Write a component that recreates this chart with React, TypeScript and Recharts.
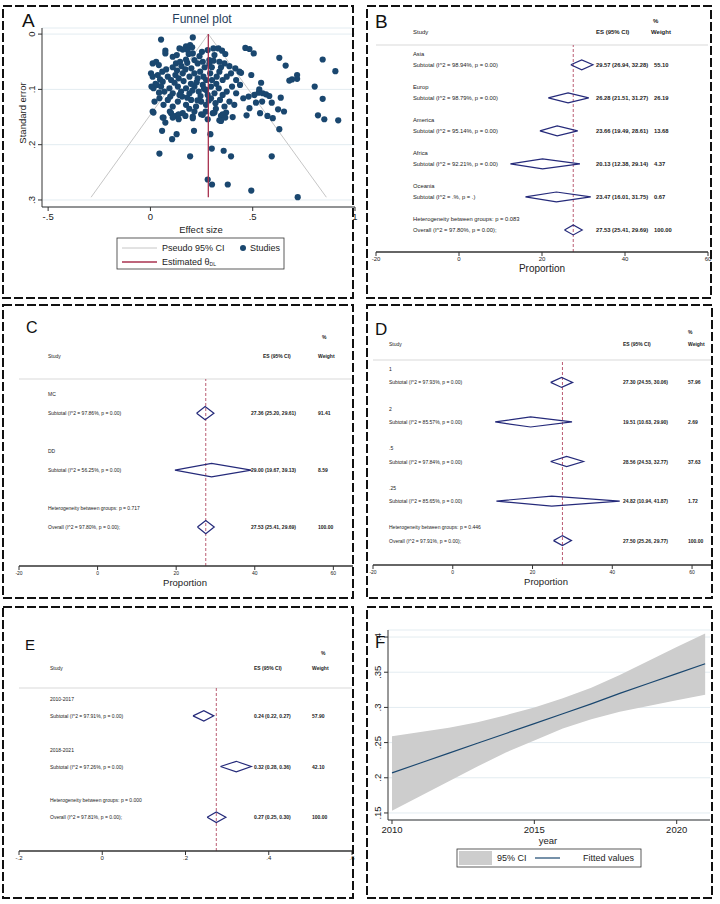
import React from 'react';
import { ScatterChart, Scatter, ComposedChart, Area, Line, XAxis, YAxis, CartesianGrid, ReferenceLine } from 'recharts';

const FONT = '"Liberation Sans", Arial, sans-serif';
const NAVY = '#1a476f';
const DIAMOND = '#252a7a';
const CRIMSON = '#a8324f';

// ---- A: funnel plot (effect size, standard error)
const studies: number[][] = [
  [0.052, 0.010], [0.207, 0.006],
  [0.174, 0.022], [0.194, 0.020], [0.204, 0.024], [0.182, 0.029], [0.207, 0.035], [0.187, 0.036], [0.158, 0.028], [0.142, 0.026],
  [0.129, 0.038], [0.109, 0.041], [0.073, 0.030], [0.073, 0.035], [0.280, 0.029], [0.308, 0.026], [0.332, 0.026], [0.350, 0.030],
  [0.366, 0.036], [0.252, 0.032],
  [0.011, 0.053], [0.028, 0.050], [0.041, 0.056], [0.077, 0.064], [0.109, 0.060], [0.125, 0.053], [0.145, 0.050], [0.174, 0.046],
  [0.215, 0.047], [0.231, 0.053], [0.256, 0.050], [0.288, 0.047], [0.288, 0.054], [0.313, 0.038], [0.308, 0.048], [0.337, 0.050],
  [0.362, 0.053], [0.386, 0.058], [0.415, 0.062], [0.435, 0.068],
  [0.003, 0.071], [0.011, 0.077], [0.036, 0.074], [0.047, 0.082], [0.060, 0.086], [0.085, 0.077], [0.101, 0.083], [0.122, 0.074],
  [0.138, 0.080], [0.158, 0.071], [0.171, 0.064], [0.191, 0.077], [0.215, 0.071], [0.231, 0.080], [0.243, 0.068], [0.259, 0.077],
  [0.272, 0.083], [0.292, 0.071], [0.301, 0.083], [0.324, 0.077], [0.337, 0.068], [0.353, 0.083], [0.373, 0.077], [0.394, 0.071],
  [0.419, 0.083],
  [0.015, 0.098], [0.031, 0.092], [0.052, 0.095], [0.068, 0.104], [0.093, 0.098], [0.109, 0.107], [0.134, 0.095], [0.150, 0.104],
  [0.174, 0.098], [0.191, 0.107], [0.215, 0.095], [0.236, 0.104], [0.256, 0.092], [0.272, 0.101], [0.296, 0.095], [0.313, 0.107],
  [0.334, 0.098], [0.353, 0.110], [0.373, 0.104], [0.399, 0.095], [0.419, 0.107],
  [0.020, 0.122], [0.044, 0.116], [0.064, 0.128], [0.085, 0.119], [0.109, 0.131], [0.134, 0.122], [0.155, 0.113], [0.174, 0.128],
  [0.199, 0.119], [0.223, 0.131], [0.248, 0.122], [0.272, 0.128], [0.296, 0.116], [0.318, 0.125], [0.340, 0.119], [0.362, 0.131],
  [0.386, 0.122], [0.410, 0.128],
  [0.011, 0.140], [0.060, 0.151], [0.101, 0.143], [0.125, 0.148], [0.158, 0.143], [0.207, 0.149], [0.248, 0.145], [0.305, 0.143],
  [0.345, 0.148], [0.370, 0.142],
  [0.118, 0.088], [0.162, 0.085], [0.198, 0.090], [0.226, 0.087], [0.262, 0.099], [0.245, 0.112], [0.205, 0.102], [0.180, 0.115],
  [0.142, 0.110], [0.097, 0.113], [0.280, 0.110], [0.322, 0.090], [0.265, 0.060], [0.200, 0.062], [0.152, 0.058], [0.240, 0.040],
  [0.300, 0.060], [0.345, 0.060], [0.180, 0.052], [0.285, 0.120], [0.230, 0.120], [0.130, 0.066], [0.058, 0.068], [0.025, 0.090],
  [0.005, 0.095], [0.270, 0.140], [0.190, 0.135], [0.320, 0.135], [0.095, 0.140], [0.042, 0.106],
  [0.015, 0.142], [0.064, 0.151], [0.073, 0.160], [0.109, 0.151], [0.138, 0.145], [0.138, 0.154], [0.171, 0.148], [0.207, 0.152],
  [0.215, 0.140], [0.256, 0.146], [0.280, 0.154], [0.313, 0.142], [0.337, 0.156], [0.345, 0.157], [0.353, 0.145], [0.366, 0.151],
  [0.402, 0.150], [0.057, 0.175], [0.128, 0.181], [0.106, 0.190], [0.213, 0.175], [0.293, 0.181], [0.300, 0.207], [0.358, 0.211],
  [0.394, 0.221], [0.044, 0.216], [0.194, 0.221], [0.280, 0.263], [0.301, 0.272], [0.378, 0.272],
  [0.464, 0.025], [0.484, 0.027], [0.505, 0.035], [0.630, 0.043], [0.842, 0.046], [0.661, 0.057], [0.904, 0.067], [0.443, 0.070],
  [0.493, 0.074], [0.717, 0.074], [0.717, 0.081], [0.692, 0.082], [0.679, 0.084], [0.541, 0.088], [0.803, 0.095], [0.532, 0.100],
  [0.438, 0.092], [0.529, 0.106], [0.549, 0.107], [0.565, 0.109], [0.581, 0.112], [0.508, 0.110], [0.480, 0.113], [0.454, 0.116],
  [0.637, 0.115], [0.842, 0.117], [0.516, 0.124], [0.546, 0.122], [0.593, 0.124], [0.484, 0.134], [0.624, 0.136], [0.653, 0.140],
  [0.536, 0.143], [0.470, 0.147], [0.572, 0.148], [0.598, 0.152], [0.819, 0.147], [0.850, 0.154], [0.918, 0.156], [0.630, 0.172],
  [0.593, 0.221], [0.493, 0.283], [0.720, 0.295],
];
const pseudoCI: number[][] = [[-0.29, 0.295], [0.283, 0], [0.86, 0.295]];
const thetaDL: number[][] = [[0.283, 0], [0.283, 0.295]];

// ---- B: by region
const bGroups = ['Asia', 'Europ', 'America', 'Africa', 'Oceania'];
const bI2 = ['98.94%', '98.79%', '95.14%', '92.21%', '.%'];
const bP = ['0.00', '0.00', '0.00', '0.00', '.'];
const bES = [29.57, 26.28, 23.66, 20.13, 23.47];
const bLo = [26.94, 21.51, 19.49, 12.38, 16.01];
const bHi = [32.28, 31.27, 28.61, 29.14, 31.75];
const bWt = ['55.10', '26.19', '13.68', '4.37', '0.67'];
const bOverall = [27.53, 25.41, 29.69];

// ---- C: by design
const cGroups = ['MC', 'DD'];
const cI2 = ['97.86%', '56.25%'];
const cP = ['0.00', '0.00'];
const cES = [27.36, 29.0];
const cLo = [25.2, 19.67];
const cHi = [29.61, 39.13];
const cWt = ['91.41', '8.59'];
const cOverall = [27.53, 25.41, 29.69];

// ---- D: by subgroup
const dGroups = ['1', '2', '.5', '.25'];
const dI2 = ['97.93%', '85.57%', '97.84%', '85.65%'];
const dP = ['0.00', '0.00', '0.00', '0.00'];
const dES = [27.3, 19.51, 28.56, 24.82];
const dLo = [24.55, 10.63, 24.53, 10.94];
const dHi = [30.06, 29.9, 32.77, 41.87];
const dWt = ['57.96', '2.69', '37.63', '1.72'];
const dOverall = [27.5, 25.26, 29.77];

// ---- E: by period
const eGroups = ['2010-2017', '2018-2021'];
const eI2 = ['97.91%', '97.26%'];
const eP = ['0.00', '0.00'];
const eES = [0.244, 0.322];
const eLo = [0.218, 0.284];
const eHi = [0.268, 0.358];
const eWt = ['57.90', '42.10'];
const eOverall = [0.274, 0.252, 0.297];

// ---- F: meta-regression on year
const years = [2010, 2011, 2012, 2013, 2014, 2015, 2016, 2017, 2018, 2019, 2020, 2021];
const fitted = [0.207, 0.221, 0.235, 0.249, 0.263, 0.277, 0.291, 0.305, 0.32, 0.334, 0.348, 0.362];
const ciLow = [0.153, 0.174, 0.195, 0.216, 0.236, 0.253, 0.27, 0.283, 0.294, 0.302, 0.31, 0.318];
const ciHigh = [0.259, 0.265, 0.271, 0.279, 0.289, 0.3, 0.313, 0.328, 0.346, 0.366, 0.386, 0.405];

const stata = (v: number) => {
  if (v === 0) return '0';
  const s = String(Math.abs(v)).replace(/^0\./, '.');
  return v < 0 ? '-' + s : s;
};

const none = () => <g />;

const T = ({ x, y, s, children, anchor = 'start', weight = 'normal', fill = '#222', rot }: any) => (
  <text x={x} y={y} fontSize={s} textAnchor={anchor} fontWeight={weight} fill={fill} dominantBaseline="central"
    fontFamily={FONT} transform={rot ? `rotate(${rot} ${x} ${y})` : undefined}>{children}</text>
);

const rotTick = (cx: number, fs: number) => (p: any) => (
  <text x={cx} y={p.y} fontSize={fs} textAnchor="middle" fill="#222" fontFamily={FONT}
    transform={`rotate(-90 ${cx} ${p.y})`}>{stata(p.payload.value)}</text>
);

type Spec = {
  groups: string[]; i2: string[]; p: string[]; es: number[]; lo: number[]; hi: number[]; wt: string[];
  overall: number[]; overallI2: string; het: string;
};
type Lay = {
  left: number; top: number; width: number; height: number;
  margin: { top: number; right: number; bottom: number; left: number };
  xDomain: number[]; xTicks: number[]; yDomain: number[]; cols: number[]; fs: number; tickFs: number; half: number;
};

const ci = (e: number, l: number, h: number) => `${e.toFixed(2)} (${l.toFixed(2)}, ${h.toFixed(2)})`;

const diamond = (e: number, l: number, h: number, pos: number, half: number) => [
  { x: l, y: pos }, { x: e, y: pos - half }, { x: h, y: pos }, { x: e, y: pos + half }, { x: l, y: pos },
];

function Forest({ spec, lay }: { spec: Spec; lay: Lay }) {
  const n = spec.groups.length;
  const rows: any[] = [];
  spec.groups.forEach((g, k) => {
    rows.push({ y: 3 * k, text: g });
    rows.push({
      y: 3 * k + 1, text: `Subtotal  (I^2 = ${spec.i2[k]}, p = ${spec.p[k]})`,
      ci: ci(spec.es[k], spec.lo[k], spec.hi[k]), wt: spec.wt[k],
    });
  });
  rows.push({ y: 3 * n, text: `Heterogeneity between groups: p = ${spec.het}` });
  rows.push({
    y: 3 * n + 1, text: `Overall  (I^2 = ${spec.overallI2}, p = 0.00);`,
    ci: ci(spec.overall[0], spec.overall[1], spec.overall[2]), wt: '100.00',
  });
  const rowPts = rows.map((r) => ({ ...r, x: lay.xDomain[0] }));
  const diamonds = spec.es.map((e, k) => diamond(e, spec.lo[k], spec.hi[k], 3 * k + 1, lay.half));
  diamonds.push(diamond(spec.overall[0], spec.overall[1], spec.overall[2], 3 * n + 1, lay.half));

  const rowShape = (p: any) => {
    const r = p.payload;
    return (
      <g>
        <T x={lay.cols[0]} y={p.cy} s={lay.fs}>{r.text}</T>
        {r.ci && <T x={lay.cols[1]} y={p.cy} s={lay.fs} weight="bold">{r.ci}</T>}
        {r.wt && <T x={lay.cols[2]} y={p.cy} s={lay.fs} weight="bold">{r.wt}</T>}
      </g>
    );
  };

  return (
    <div style={{ position: 'absolute', left: lay.left, top: lay.top }}>
      <ScatterChart width={lay.width} height={lay.height} margin={lay.margin}>
        <XAxis type="number" dataKey="x" domain={lay.xDomain} ticks={lay.xTicks} allowDataOverflow interval={0}
          tickFormatter={stata} height={20} tickSize={4} tickMargin={1}
          tick={{ fontSize: lay.tickFs, fill: '#222', fontFamily: FONT }}
          axisLine={{ stroke: '#333', strokeWidth: 1.3 }} tickLine={{ stroke: '#333' }} />
        <YAxis type="number" dataKey="y" domain={lay.yDomain} reversed allowDataOverflow hide width={0} />
        <ReferenceLine y={lay.yDomain[0]} stroke="#e6e6e6" strokeWidth={1.5} />
        <ReferenceLine x={spec.overall[0]} stroke={CRIMSON} strokeDasharray="3 2" strokeWidth={0.8} />
        <Scatter data={rowPts} shape={rowShape} isAnimationActive={false} />
        {diamonds.map((d, i) => (
          <Scatter key={i} data={d} line={{ stroke: DIAMOND, strokeWidth: 1.2 }} lineType="joint" shape={none}
            isAnimationActive={false} />
        ))}
      </ScatterChart>
    </div>
  );
}

const panels = [
  [3, 6, 350, 292], [367, 6, 344, 292],
  [3, 305, 350, 293], [367, 305, 345, 293],
  [3, 607, 350, 291], [367, 607, 345, 291],
];

export default function App() {
  const studyPts = studies.map(([x, y]) => ({ x, y }));
  const ciPts = pseudoCI.map(([x, y]) => ({ x, y }));
  const thetaPts = thetaDL.map(([x, y]) => ({ x, y }));
  const trend = years.map((year, i) => ({ year, fit: fitted[i], band: [ciLow[i], ciHigh[i]] }));

  return (
    <div style={{ position: 'absolute', left: 0, top: 0, width: 720, height: 904, background: '#fff', fontFamily: FONT }}>
      {/* A */}
      <div style={{ position: 'absolute', left: 0, top: 0 }}>
        <ScatterChart width={360} height={300} margin={{ top: 28, right: 5, bottom: 73, left: 0 }}>
          <CartesianGrid vertical={false} stroke="#e3ecf1" />
          <XAxis type="number" dataKey="x" domain={[-0.53, 1.0]} ticks={[-0.5, 0, 0.5, 1]} allowDataOverflow interval={0}
            tickFormatter={stata} height={20} tickSize={4} tickMargin={2}
            tick={{ fontSize: 9.5, fill: '#222', fontFamily: FONT }} axisLine={{ stroke: '#333' }} tickLine={{ stroke: '#333' }} />
          <YAxis type="number" dataKey="y" domain={[-0.011, 0.3127]} reversed allowDataOverflow ticks={[0, 0.1, 0.2, 0.3]}
            interval={0} width={42} tickSize={4} axisLine={{ stroke: '#333' }} tickLine={{ stroke: '#333' }}
            tick={rotTick(35, 9.5)} />
          <Scatter data={ciPts} line={{ stroke: '#c6c6c6', strokeWidth: 1 }} lineType="joint" shape={none} isAnimationActive={false} />
          <Scatter data={studyPts} isAnimationActive={false}
            shape={(p: any) => <circle cx={p.cx} cy={p.cy} r={3.1} fill={NAVY} />} />
          <Scatter data={thetaPts} line={{ stroke: CRIMSON, strokeWidth: 1.3 }} lineType="joint" shape={none} isAnimationActive={false} />
        </ScatterChart>
      </div>

      <Forest
        spec={{ groups: bGroups, i2: bI2, p: bP, es: bES, lo: bLo, hi: bHi, wt: bWt, overall: bOverall, overallI2: '97.80%', het: '0.083' }}
        lay={{ left: 360, top: 0, width: 360, height: 300, margin: { top: 45, right: 12, bottom: 28, left: 16 },
          xDomain: [-20, 60], xTicks: [-20, 0, 20, 40, 60], yDomain: [-0.8, 18], cols: [53, 236, 294], fs: 5.8, tickFs: 6, half: 0.45 }}
      />
      <Forest
        spec={{ groups: cGroups, i2: cI2, p: cP, es: cES, lo: cLo, hi: cHi, wt: cWt, overall: cOverall, overallI2: '97.80%', het: '0.717' }}
        lay={{ left: 0, top: 300, width: 360, height: 300, margin: { top: 79, right: 7, bottom: 14, left: 19 },
          xDomain: [-20, 65], xTicks: [-20, 0, 20, 40, 60], yDomain: [-0.8, 9.05], cols: [48, 251, 318], fs: 5, tickFs: 5, half: 0.35 }}
      />
      <Forest
        spec={{ groups: dGroups, i2: dI2, p: dP, es: dES, lo: dLo, hi: dHi, wt: dWt, overall: dOverall, overallI2: '97.91%', het: '0.446' }}
        lay={{ left: 360, top: 300, width: 360, height: 300, margin: { top: 60, right: 8, bottom: 15, left: 13 },
          xDomain: [-20, 65], xTicks: [-20, 0, 20, 40, 60], yDomain: [-0.7, 14.85], cols: [29, 263, 328], fs: 5, tickFs: 5, half: 0.38 }}
      />
      <Forest
        spec={{ groups: eGroups, i2: eI2, p: eP, es: eES, lo: eLo, hi: eHi, wt: eWt, overall: eOverall, overallI2: '97.81%', het: '0.000' }}
        lay={{ left: 0, top: 600, width: 360, height: 304, margin: { top: 88, right: 8, bottom: 33, left: 19 },
          xDomain: [-0.2, 0.6], xTicks: [-0.2, 0, 0.2, 0.4, 0.6], yDomain: [-0.65, 9], cols: [50, 254, 312], fs: 5, tickFs: 6, half: 0.31 }}
      />

      {/* F */}
      <div style={{ position: 'absolute', left: 360, top: 600 }}>
        <ComposedChart width={360} height={304} data={trend} margin={{ top: 30, right: 10, bottom: 64, left: 0 }}>
          <CartesianGrid vertical={false} stroke="#e3ecf1" />
          <XAxis type="number" dataKey="year" domain={[2009.86, 2021.17]} ticks={[2010, 2015, 2020]} allowDataOverflow interval={0}
            height={20} tickSize={4} tickMargin={2} tick={{ fontSize: 9.5, fill: '#222', fontFamily: FONT }}
            axisLine={{ stroke: '#333' }} tickLine={{ stroke: '#333' }} />
          <YAxis type="number" domain={[0.14, 0.41]} ticks={[0.15, 0.2, 0.25, 0.3, 0.35, 0.4]} allowDataOverflow interval={0}
            width={28} tickSize={4} axisLine={{ stroke: '#333' }} tickLine={{ stroke: '#333' }} tick={rotTick(21, 9.5)} />
          <Area dataKey="band" type="linear" stroke="none" fill="#cdcdcd" fillOpacity={1} isAnimationActive={false} />
          <Line dataKey="fit" type="linear" stroke={NAVY} strokeWidth={1.2} dot={false} isAnimationActive={false} />
        </ComposedChart>
      </div>

      {/* overlay: letters, titles, headers, legends, borders */}
      <svg width={720} height={904} style={{ position: 'absolute', left: 0, top: 0, pointerEvents: 'none' }}>
        {/* A */}
        <text x={22} y={27} fontSize={19} fontFamily={FONT} fill="#111">A</text>
        <T x={202} y={19} s={12} anchor="middle" fill="#1f3d5c">Funnel plot</T>
        <T x={201} y={229} s={9.5} anchor="middle">Effect size</T>
        <T x={22} y={113} s={9.5} anchor="middle" rot={-90}>Standard error</T>
        <rect x={117} y={238} width={167} height={31} fill="#fff" stroke="#333" strokeWidth={0.8} />
        <line x1={122} y1={248} x2={157} y2={248} stroke="#c6c6c6" strokeWidth={1} />
        <T x={162} y={248} s={9}>Pseudo 95% CI</T>
        <circle cx={243} cy={248} r={3} fill={NAVY} />
        <T x={250} y={248} s={9}>Studies</T>
        <line x1={122} y1={262} x2={157} y2={262} stroke={CRIMSON} strokeWidth={1.3} />
        <text x={162} y={262} fontSize={9} fontFamily={FONT} fill="#222" dominantBaseline="central">
          Estimated θ<tspan fontSize={5} dy={2}>DL</tspan>
        </text>

        {/* B */}
        <text x={375} y={28} fontSize={19} fontFamily={FONT} fill="#111">B</text>
        <T x={413} y={32} s={6}>Study</T>
        <T x={596} y={32} s={6} weight="bold">ES (95% CI)</T>
        <T x={653} y={21} s={6} weight="bold">%</T>
        <T x={651} y={32} s={6} weight="bold">Weight</T>
        <T x={542} y={268} s={10} anchor="middle">Proportion</T>

        {/* C */}
        <text x={26} y={333} fontSize={16} fontFamily={FONT} fill="#111">C</text>
        <T x={48} y={356} s={5}>Study</T>
        <T x={263} y={356} s={5} weight="bold">ES (95% CI)</T>
        <T x={322} y={337} s={5} weight="bold">%</T>
        <T x={318} y={356} s={5} weight="bold">Weight</T>
        <T x={185} y={582} s={9.5} anchor="middle">Proportion</T>

        {/* D */}
        <text x={375} y={335} fontSize={17} fontFamily={FONT} fill="#111">D</text>
        <T x={389} y={344} s={5}>Study</T>
        <T x={623} y={344} s={5} weight="bold">ES (95% CI)</T>
        <T x={688} y={332} s={5} weight="bold">%</T>
        <T x={688} y={344} s={5} weight="bold">Weight</T>
        <T x={546} y={581} s={9.5} anchor="middle">Proportion</T>

        {/* E */}
        <text x={25} y={650} fontSize={15} fontFamily={FONT} fill="#111">E</text>
        <T x={50} y={668} s={5}>Study</T>
        <T x={254} y={668} s={5} weight="bold">ES (95% CI)</T>
        <T x={321} y={653} s={5} weight="bold">%</T>
        <T x={312} y={668} s={5} weight="bold">Weight</T>

        {/* F */}
        <text x={375} y={648} fontSize={17} fontFamily={FONT} fill="#111">F</text>
        <T x={548} y={840} s={9.5} anchor="middle">year</T>
        <rect x={457} y={849} width={184} height={18} fill="#fff" stroke="#333" strokeWidth={0.8} />
        <rect x={459} y={851} width={33} height={14} fill="#cdcdcd" />
        <T x={497} y={858} s={9}>95% CI</T>
        <line x1={535} y1={858} x2={560} y2={858} stroke={NAVY} strokeWidth={1.2} />
        <T x={583} y={858} s={9}>Fitted values</T>

        {panels.map(([x, y, w, h], i) => (
          <rect key={i} x={x} y={y} width={w} height={h} fill="none" stroke="#111" strokeWidth={2} strokeDasharray="9 3" />
        ))}
      </svg>
    </div>
  );
}
